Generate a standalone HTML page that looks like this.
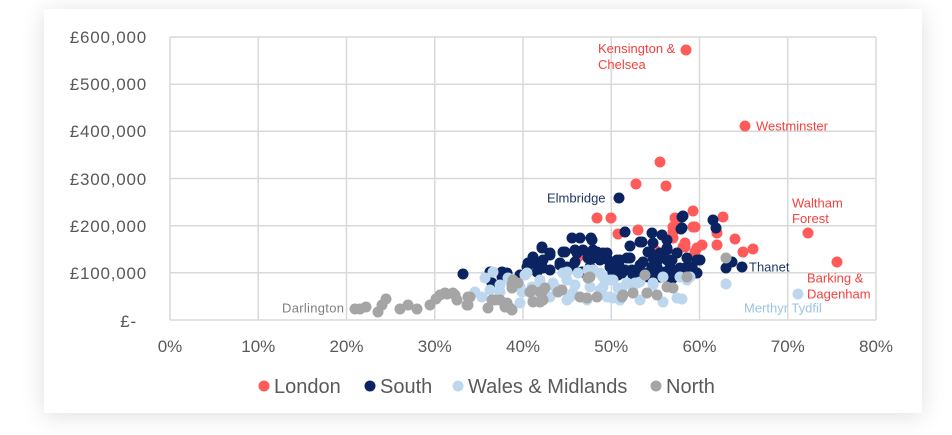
<!DOCTYPE html>
<html>
<head>
<meta charset="utf-8">
<style>
  html,body{margin:0;padding:0;background:#ffffff;}
  body{width:952px;height:435px;position:relative;overflow:hidden;font-family:"Liberation Sans",sans-serif;}
  .card{position:absolute;left:44px;top:9px;width:878px;height:404px;background:#fff;box-shadow:0 3px 22px rgba(0,0,0,0.13);}
  svg{position:absolute;left:0;top:0;}
</style>
</head>
<body>
<div class="card"></div>
<svg width="952" height="435" viewBox="0 0 952 435" xmlns="http://www.w3.org/2000/svg">
  <g stroke="#d9d9d9" stroke-width="1.5" fill="none">
    <line x1="170" y1="37" x2="876" y2="37"/>
    <line x1="170" y1="84.2" x2="876" y2="84.2"/>
    <line x1="170" y1="131.3" x2="876" y2="131.3"/>
    <line x1="170" y1="178.5" x2="876" y2="178.5"/>
    <line x1="170" y1="225.7" x2="876" y2="225.7"/>
    <line x1="170" y1="272.8" x2="876" y2="272.8"/>
    <line x1="170" y1="320" x2="876" y2="320"/>
    <line x1="170" y1="37" x2="170" y2="320"/>
    <line x1="258.25" y1="37" x2="258.25" y2="320"/>
    <line x1="346.5" y1="37" x2="346.5" y2="320"/>
    <line x1="434.75" y1="37" x2="434.75" y2="320"/>
    <line x1="523" y1="37" x2="523" y2="320"/>
    <line x1="611.25" y1="37" x2="611.25" y2="320"/>
    <line x1="699.5" y1="37" x2="699.5" y2="320"/>
    <line x1="787.75" y1="37" x2="787.75" y2="320"/>
    <line x1="876" y1="37" x2="876" y2="320"/>
  </g>

  <g font-family="Liberation Sans, sans-serif" font-size="17" fill="#595959" text-anchor="end" letter-spacing="0.8">
    <text x="147" y="43">£600,000</text>
    <text x="147" y="90">£500,000</text>
    <text x="147" y="137">£400,000</text>
    <text x="147" y="185">£300,000</text>
    <text x="147" y="232">£200,000</text>
    <text x="147" y="279">£100,000</text>
    <text x="137" y="327">£-</text>
  </g>
  <g font-family="Liberation Sans, sans-serif" font-size="17" fill="#595959" text-anchor="middle">
    <text x="170" y="352">0%</text>
    <text x="258.25" y="352">10%</text>
    <text x="346.5" y="352">20%</text>
    <text x="434.75" y="352">30%</text>
    <text x="523" y="352">40%</text>
    <text x="611.25" y="352">50%</text>
    <text x="699.5" y="352">60%</text>
    <text x="787.75" y="352">70%</text>
    <text x="876" y="352">80%</text>
  </g>

  <!-- London -->
  <g fill="#ff5b5b">
    <circle cx="686" cy="50" r="5.5"/><circle cx="745" cy="126" r="5.5"/><circle cx="660" cy="162" r="5.5"/>
    <circle cx="636" cy="184" r="5.5"/><circle cx="666" cy="186" r="5.5"/><circle cx="693" cy="211" r="5.5"/>
    <circle cx="723" cy="217" r="5.5"/><circle cx="597" cy="218" r="5.5"/><circle cx="611" cy="218" r="5.5"/>
    <circle cx="677" cy="220" r="5.5"/><circle cx="673" cy="227" r="5.5"/><circle cx="693" cy="227" r="5.5"/>
    <circle cx="675" cy="218" r="5.5"/><circle cx="695" cy="227" r="5.5"/><circle cx="673" cy="232" r="5.5"/>
    <circle cx="638" cy="230" r="5.5"/><circle cx="618" cy="234" r="5.5"/><circle cx="717" cy="233" r="5.5"/>
    <circle cx="717" cy="245" r="5.5"/><circle cx="735" cy="239" r="5.5"/><circle cx="685" cy="247" r="5.5"/>
    <circle cx="702" cy="245" r="5.5"/><circle cx="695" cy="252" r="5.5"/><circle cx="743" cy="252" r="5.5"/>
    <circle cx="753" cy="249" r="5.5"/><circle cx="653" cy="257" r="5.5"/><circle cx="683" cy="247" r="5.5"/>
    <circle cx="697" cy="248" r="5.5"/><circle cx="578" cy="257" r="5.5"/><circle cx="673" cy="238" r="5.5"/>
    <circle cx="808" cy="233" r="5.5"/><circle cx="837" cy="262" r="5.5"/><circle cx="685" cy="243" r="5.5"/>
    <circle cx="655" cy="250" r="5.5"/>
  </g>

  <!-- South -->
  <g fill="#0b2461">
    <circle cx="463" cy="274" r="5.5"/><circle cx="490" cy="272" r="5.5"/><circle cx="502" cy="272" r="5.5"/>
    <circle cx="492" cy="283" r="5.5"/><circle cx="520" cy="275" r="5.5"/><circle cx="527" cy="267" r="5.5"/>
    <circle cx="533" cy="263" r="5.5"/><circle cx="542" cy="248" r="5.5"/><circle cx="550" cy="255" r="5.5"/>
    <circle cx="563" cy="252" r="5.5"/><circle cx="543" cy="268" r="5.5"/><circle cx="528" cy="265" r="5.5"/>
    <circle cx="537" cy="263" r="5.5"/><circle cx="572" cy="238" r="5.5"/><circle cx="580" cy="238" r="5.5"/>
    <circle cx="591" cy="238" r="5.5"/><circle cx="592" cy="240" r="5.5"/><circle cx="542" cy="247" r="5.5"/>
    <circle cx="565" cy="252" r="5.5"/><circle cx="550" cy="253" r="5.5"/><circle cx="577" cy="253" r="5.5"/>
    <circle cx="575" cy="250" r="5.5"/><circle cx="583" cy="250" r="5.5"/><circle cx="593" cy="250" r="5.5"/>
    <circle cx="603" cy="253" r="5.5"/><circle cx="607" cy="253" r="5.5"/><circle cx="597" cy="252" r="5.5"/>
    <circle cx="533" cy="257" r="5.5"/><circle cx="543" cy="260" r="5.5"/><circle cx="575" cy="262" r="5.5"/>
    <circle cx="588" cy="258" r="5.5"/><circle cx="600" cy="260" r="5.5"/><circle cx="617" cy="260" r="5.5"/>
    <circle cx="630" cy="258" r="5.5"/><circle cx="640" cy="265" r="5.5"/><circle cx="667" cy="260" r="5.5"/>
    <circle cx="687" cy="258" r="5.5"/><circle cx="697" cy="260" r="5.5"/><circle cx="528" cy="263" r="5.5"/>
    <circle cx="560" cy="265" r="5.5"/><circle cx="610" cy="267" r="5.5"/><circle cx="620" cy="268" r="5.5"/>
    <circle cx="507" cy="273" r="5.5"/><circle cx="502" cy="277" r="5.5"/><circle cx="537" cy="272" r="5.5"/>
    <circle cx="550" cy="270" r="5.5"/><circle cx="567" cy="267" r="5.5"/><circle cx="582" cy="272" r="5.5"/>
    <circle cx="593" cy="270" r="5.5"/><circle cx="613" cy="273" r="5.5"/><circle cx="633" cy="275" r="5.5"/>
    <circle cx="660" cy="272" r="5.5"/><circle cx="670" cy="268" r="5.5"/><circle cx="683" cy="272" r="5.5"/>
    <circle cx="693" cy="270" r="5.5"/><circle cx="652" cy="267" r="5.5"/><circle cx="590" cy="267" r="5.5"/>
    <circle cx="647" cy="273" r="5.5"/><circle cx="667" cy="277" r="5.5"/><circle cx="657" cy="273" r="5.5"/>
    <circle cx="619" cy="198" r="5.5"/><circle cx="682" cy="217" r="5.5"/><circle cx="681" cy="229" r="5.5"/>
    <circle cx="625" cy="232" r="5.5"/><circle cx="652" cy="233" r="5.5"/><circle cx="662" cy="235" r="5.5"/>
    <circle cx="640" cy="242" r="5.5"/><circle cx="630" cy="246" r="5.5"/><circle cx="653" cy="243" r="5.5"/>
    <circle cx="667" cy="250" r="5.5"/><circle cx="660" cy="257" r="5.5"/><circle cx="683" cy="216" r="5.5"/>
    <circle cx="682" cy="228" r="5.5"/><circle cx="713" cy="220" r="5.5"/><circle cx="716" cy="228" r="5.5"/>
    <circle cx="642" cy="242" r="5.5"/><circle cx="667" cy="240" r="5.5"/><circle cx="650" cy="252" r="5.5"/>
    <circle cx="667" cy="248" r="5.5"/><circle cx="627" cy="258" r="5.5"/><circle cx="658" cy="260" r="5.5"/>
    <circle cx="672" cy="260" r="5.5"/><circle cx="700" cy="260" r="5.5"/><circle cx="692" cy="267" r="5.5"/>
    <circle cx="680" cy="268" r="5.5"/><circle cx="697" cy="273" r="5.5"/><circle cx="632" cy="270" r="5.5"/>
    <circle cx="622" cy="273" r="5.5"/><circle cx="663" cy="277" r="5.5"/><circle cx="673" cy="278" r="5.5"/>
    <circle cx="648" cy="277" r="5.5"/><circle cx="732" cy="262" r="5.5"/><circle cx="726" cy="268" r="5.5"/>
    <circle cx="742" cy="267" r="5.5"/><circle cx="593" cy="258" r="5.5"/><circle cx="608" cy="260" r="5.5"/>
    <circle cx="620" cy="260" r="5.5"/><circle cx="643" cy="262" r="5.5"/><circle cx="653" cy="258" r="5.5"/>
    <circle cx="670" cy="263" r="5.5"/><circle cx="560" cy="263" r="5.5"/><circle cx="573" cy="267" r="5.5"/>
    <circle cx="617" cy="267" r="5.5"/><circle cx="625" cy="270" r="5.5"/><circle cx="637" cy="272" r="5.5"/>
    <circle cx="657" cy="267" r="5.5"/><circle cx="665" cy="272" r="5.5"/><circle cx="678" cy="270" r="5.5"/>
    <circle cx="687" cy="267" r="5.5"/><circle cx="618" cy="275" r="5.5"/><circle cx="650" cy="275" r="5.5"/>
    <circle cx="660" cy="277" r="5.5"/><circle cx="670" cy="277" r="5.5"/><circle cx="648" cy="252" r="5.5"/>
    <circle cx="660" cy="253" r="5.5"/><circle cx="677" cy="253" r="5.5"/>
  </g>

  <!-- Wales & Midlands -->
  <g fill="#bdd7ee">
    <circle cx="485" cy="278" r="5.5"/><circle cx="493" cy="272" r="5.5"/><circle cx="475" cy="292" r="5.5"/>
    <circle cx="482" cy="297" r="5.5"/><circle cx="525" cy="275" r="5.5"/><circle cx="522" cy="292" r="5.5"/>
    <circle cx="532" cy="287" r="5.5"/><circle cx="540" cy="283" r="5.5"/><circle cx="555" cy="287" r="5.5"/>
    <circle cx="563" cy="273" r="5.5"/><circle cx="527" cy="273" r="5.5"/><circle cx="510" cy="280" r="5.5"/>
    <circle cx="500" cy="292" r="5.5"/><circle cx="520" cy="287" r="5.5"/><circle cx="540" cy="280" r="5.5"/>
    <circle cx="553" cy="283" r="5.5"/><circle cx="567" cy="280" r="5.5"/><circle cx="578" cy="273" r="5.5"/>
    <circle cx="588" cy="270" r="5.5"/><circle cx="600" cy="273" r="5.5"/><circle cx="610" cy="280" r="5.5"/>
    <circle cx="627" cy="283" r="5.5"/><circle cx="637" cy="283" r="5.5"/><circle cx="653" cy="283" r="5.5"/>
    <circle cx="663" cy="277" r="5.5"/><circle cx="680" cy="277" r="5.5"/><circle cx="690" cy="277" r="5.5"/>
    <circle cx="590" cy="287" r="5.5"/><circle cx="600" cy="290" r="5.5"/><circle cx="573" cy="293" r="5.5"/>
    <circle cx="550" cy="297" r="5.5"/><circle cx="533" cy="300" r="5.5"/><circle cx="520" cy="303" r="5.5"/>
    <circle cx="567" cy="300" r="5.5"/><circle cx="587" cy="300" r="5.5"/><circle cx="610" cy="297" r="5.5"/>
    <circle cx="620" cy="300" r="5.5"/><circle cx="640" cy="300" r="5.5"/><circle cx="663" cy="302" r="5.5"/>
    <circle cx="682" cy="299" r="5.5"/><circle cx="622" cy="288" r="5.5"/><circle cx="635" cy="283" r="5.5"/>
    <circle cx="688" cy="278" r="5.5"/><circle cx="726" cy="284" r="5.5"/><circle cx="798" cy="294" r="5.5"/>
    <circle cx="567" cy="272" r="5.5"/><circle cx="593" cy="270" r="5.5"/><circle cx="603" cy="277" r="5.5"/>
    <circle cx="613" cy="280" r="5.5"/><circle cx="640" cy="282" r="5.5"/><circle cx="575" cy="285" r="5.5"/>
    <circle cx="603" cy="287" r="5.5"/><circle cx="618" cy="288" r="5.5"/><circle cx="633" cy="287" r="5.5"/>
    <circle cx="653" cy="285" r="5.5"/><circle cx="570" cy="297" r="5.5"/><circle cx="607" cy="297" r="5.5"/>
    <circle cx="613" cy="298" r="5.5"/><circle cx="677" cy="298" r="5.5"/><circle cx="687" cy="280" r="5.5"/>
    <circle cx="500" cy="285" r="5.5"/><circle cx="508" cy="278" r="5.5"/><circle cx="490" cy="290" r="5.5"/>
  </g>

  <!-- North -->
  <g fill="#a5a5a5">
    <circle cx="355" cy="309" r="5.5"/><circle cx="360" cy="309" r="5.5"/><circle cx="366" cy="307" r="5.5"/>
    <circle cx="378" cy="312" r="5.5"/><circle cx="382" cy="305" r="5.5"/><circle cx="386" cy="299" r="5.5"/>
    <circle cx="400" cy="309" r="5.5"/><circle cx="408" cy="305" r="5.5"/><circle cx="417" cy="309" r="5.5"/>
    <circle cx="430" cy="305" r="5.5"/><circle cx="436" cy="299" r="5.5"/><circle cx="440" cy="295" r="5.5"/>
    <circle cx="447" cy="294" r="5.5"/><circle cx="455" cy="295" r="5.5"/><circle cx="457" cy="300" r="5.5"/>
    <circle cx="467" cy="305" r="5.5"/><circle cx="470" cy="297" r="5.5"/><circle cx="488" cy="308" r="5.5"/>
    <circle cx="495" cy="300" r="5.5"/><circle cx="505" cy="307" r="5.5"/><circle cx="512" cy="310" r="5.5"/>
    <circle cx="512" cy="285" r="5.5"/><circle cx="518" cy="283" r="5.5"/><circle cx="445" cy="293" r="5.5"/>
    <circle cx="453" cy="293" r="5.5"/><circle cx="468" cy="297" r="5.5"/><circle cx="468" cy="305" r="5.5"/>
    <circle cx="492" cy="300" r="5.5"/><circle cx="500" cy="300" r="5.5"/><circle cx="507" cy="303" r="5.5"/>
    <circle cx="512" cy="288" r="5.5"/><circle cx="530" cy="292" r="5.5"/><circle cx="540" cy="292" r="5.5"/>
    <circle cx="545" cy="288" r="5.5"/><circle cx="558" cy="292" r="5.5"/><circle cx="533" cy="302" r="5.5"/>
    <circle cx="543" cy="300" r="5.5"/><circle cx="513" cy="280" r="5.5"/><circle cx="532" cy="290" r="5.5"/>
    <circle cx="542" cy="292" r="5.5"/><circle cx="590" cy="277" r="5.5"/><circle cx="580" cy="297" r="5.5"/>
    <circle cx="597" cy="297" r="5.5"/><circle cx="623" cy="295" r="5.5"/><circle cx="633" cy="293" r="5.5"/>
    <circle cx="647" cy="293" r="5.5"/><circle cx="657" cy="295" r="5.5"/><circle cx="667" cy="287" r="5.5"/>
    <circle cx="673" cy="288" r="5.5"/><circle cx="645" cy="275" r="5.5"/><circle cx="510" cy="308" r="5.5"/>
    <circle cx="540" cy="302" r="5.5"/><circle cx="726" cy="258" r="5.5"/><circle cx="588" cy="278" r="5.5"/>
    <circle cx="687" cy="277" r="5.5"/><circle cx="562" cy="290" r="5.5"/><circle cx="587" cy="298" r="5.5"/>
    <circle cx="622" cy="297" r="5.5"/>
  </g>

  <!-- Data labels -->
  <g font-family="Liberation Sans, sans-serif" font-size="13">
    <text x="598" y="53" fill="#f5403f">Kensington &amp;</text>
    <text x="598" y="69" fill="#f5403f">Chelsea</text>
    <text x="756" y="130.5" fill="#f5403f">Westminster</text>
    <text x="547" y="202.5" fill="#1f3864">Elmbridge</text>
    <text x="792" y="207.5" fill="#f5403f">Waltham</text>
    <text x="792" y="223" fill="#f5403f">Forest</text>
    <text x="749" y="271.5" fill="#1f3864">Thanet</text>
    <text x="807" y="282.5" fill="#f5403f">Barking &amp;</text>
    <text x="807" y="298.5" fill="#f5403f">Dagenham</text>
    <text x="744" y="312.5" fill="#9dc3e6">Merthyr Tydfil</text>
    <text x="282" y="312.5" fill="#7f7f7f" letter-spacing="0.3">Darlington</text>
  </g>

  <!-- Legend -->
  <circle cx="264" cy="386" r="5.5" fill="#ff5b5b"/>
  <circle cx="370" cy="386" r="5.5" fill="#0b2461"/>
  <circle cx="458" cy="386" r="5.5" fill="#bdd7ee"/>
  <circle cx="656" cy="386" r="5.5" fill="#a5a5a5"/>
  <g font-family="Liberation Sans, sans-serif" font-size="20" fill="#595959">
    <text x="274" y="393">London</text>
    <text x="380" y="393">South</text>
    <text x="468" y="393">Wales &amp; Midlands</text>
    <text x="666" y="393">North</text>
  </g>
</svg>
</body>
</html>
